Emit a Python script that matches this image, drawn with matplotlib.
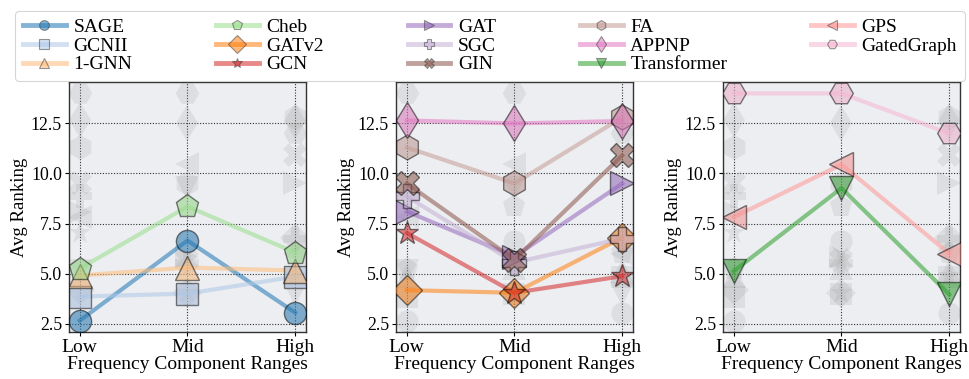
import matplotlib
matplotlib.use("Agg")
import matplotlib.pyplot as plt
from matplotlib.lines import Line2D

plt.rcParams['font.family'] = ['Liberation Serif', 'DejaVu Serif']

ranges = ["Low", "Mid", "High"]

models = ["SAGE", "GCNII", "1-GNN", "Cheb", "GATv2", "GCN", "GAT", "SGC",
          "GIN", "FA", "APPNP", "Transformer", "GPS", "GatedGraph"]

sage = [2.65, 6.65, 3.05]
gcnii = [3.85, 4.0, 4.85]
gnn1 = [4.9, 5.3, 5.15]
cheb = [5.25, 8.35, 6.05]
gatv2 = [4.17, 4.04, 6.8]
gcn = [7.03, 4.04, 4.87]
gat = [8.1, 5.85, 9.5]
sgc = [8.85, 5.55, 6.75]
gin = [9.5, 5.7, 10.9]
fa = [11.3, 9.5, 12.8]
appnp = [12.65, 12.5, 12.62]
transformer = [5.12, 9.27, 3.96]
gps = [7.82, 10.45, 6.0]
gatedgraph = [14.0, 14.0, 12.0]

values = [sage, gcnii, gnn1, cheb, gatv2, gcn, gat, sgc, gin, fa, appnp,
          transformer, gps, gatedgraph]

colors = ["#1f77b4", "#aec7e8", "#ffbb78", "#98df8a", "#ff7f0e", "#d62728",
          "#9467bd", "#c5b0d5", "#8c564b", "#c49c94", "#e377c2", "#2ca02c",
          "#ff9896", "#f7b6d2"]
markers = ["o", "s", "^", "p", "D", "*", ">", "P", "X", "h", "d", "v", "<", "H"]
sizes = [16, 16, 17, 17, 15, 17, 17, 17, 17, 18, 18, 17, 17, 17]
leg_sizes = [7, 7, 7, 7, 9, 7, 7, 7, 7, 7, 8, 7, 7, 7]

groups = [[0, 1, 2, 3], [4, 5, 6, 7, 8, 9, 10], [11, 12, 13]]

fig = plt.figure(figsize=(9.7, 3.79), dpi=100)
W, H = 970, 379
lefts = [69, 396, 723]
ax_w = 237
ax_top, ax_bot = 82, 332

x = list(range(len(ranges)))

for gi, grp in enumerate(groups):
    ax = fig.add_axes([lefts[gi] / W, 1 - ax_bot / H, ax_w / W, (ax_bot - ax_top) / H])
    ax.set_facecolor("#eceef1")
    # faded markers for every model in the background
    for i in range(len(models)):
        ax.plot(x, values[i], linestyle="none", marker=markers[i],
                markersize=sizes[i], color="#9a9a9a", alpha=0.18,
                markeredgewidth=0, zorder=2)
    # highlighted models of this group
    for i in grp:
        ax.plot(x, values[i], color=colors[i], lw=3, alpha=0.55, zorder=3)
        ax.plot(x, values[i], linestyle="none", marker=markers[i],
                markersize=sizes[i], markerfacecolor=colors[i],
                markeredgecolor="black", markeredgewidth=1.0, alpha=0.5,
                zorder=4)
    ax.set_xlim(-0.1, 2.1)
    ax.set_ylim(2.08, 14.57)
    ax.set_xticks(x)
    ax.set_xticklabels(ranges, fontsize=14)
    ax.set_yticks([2.5, 5.0, 7.5, 10.0, 12.5])
    ax.set_yticklabels(["2.5", "5.0", "7.5", "10.0", "12.5"], fontsize=12.8)
    ax.tick_params(length=3, width=0.8, pad=2)
    ax.grid(True, color="black", linestyle=(0, (1, 1.5)), linewidth=0.8, alpha=0.8)
    ax.set_axisbelow(True)
    ax.set_xlabel("Frequency Component Ranges", fontsize=14, labelpad=0)
    ax.set_ylabel("Avg Ranking", fontsize=13.5, labelpad=2)
    for sp in ax.spines.values():
        sp.set_color("#333333")
        sp.set_linewidth(1.0)

handles = []
for i in range(len(models)):
    handles.append(Line2D([0], [0], color=colors[i], lw=3.5, alpha=0.55,
                          marker=markers[i], markersize=leg_sizes[i],
                          markerfacecolor=colors[i], markeredgecolor="#444444",
                          markeredgewidth=0.8, label=models[i]))

leg = fig.legend(handles=handles, loc="upper center", ncol=5,
                 bbox_to_anchor=(0.505, 0.997), fontsize=14, frameon=True,
                 handlelength=2.2, columnspacing=4.3, handletextpad=0.4,
                 labelspacing=0.05, borderpad=0.4)
leg.get_frame().set_edgecolor("#cccccc")
leg.get_frame().set_linewidth(0.8)

fig.savefig("out.png", dpi=100)
